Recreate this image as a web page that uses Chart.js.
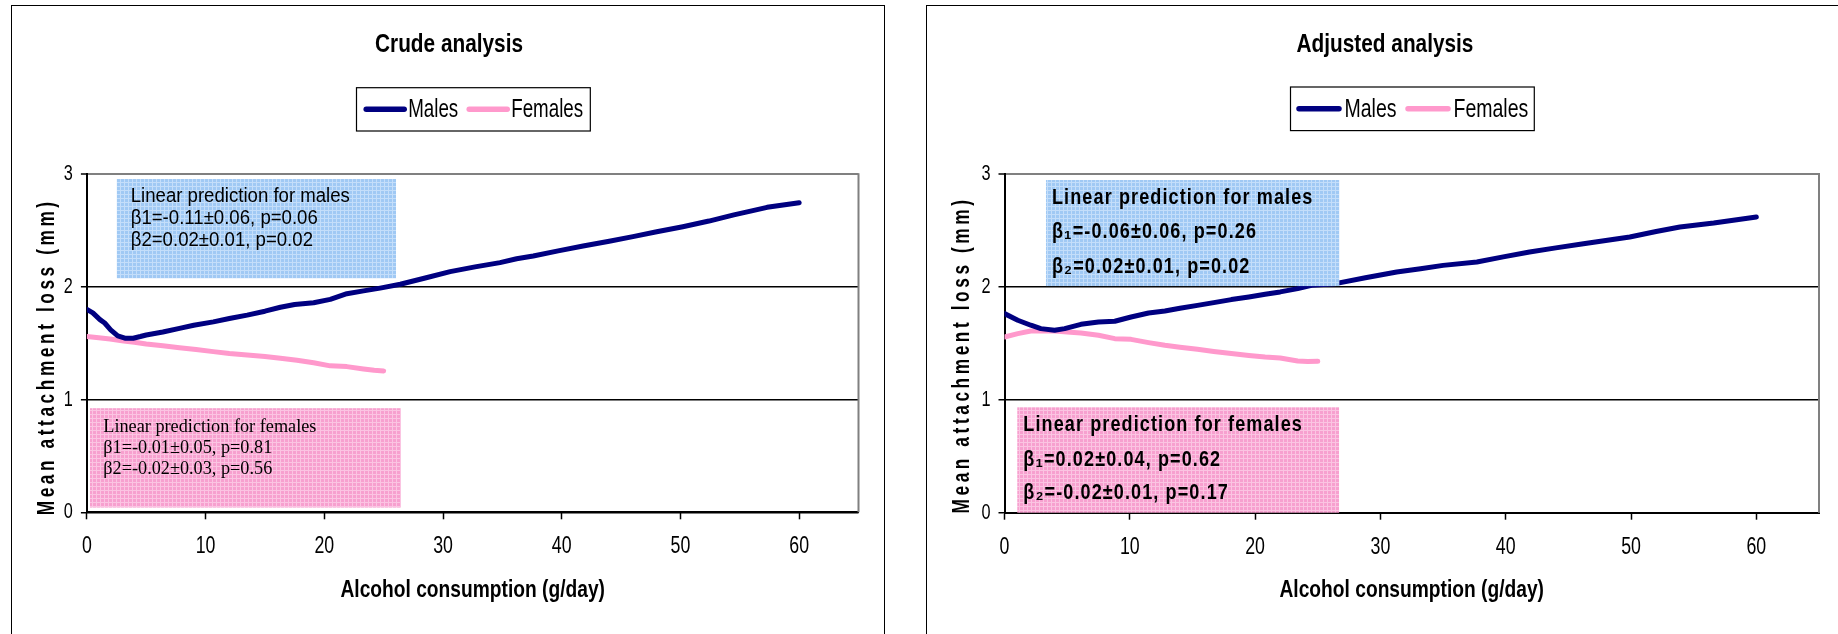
<!DOCTYPE html>
<html><head><meta charset="utf-8">
<script src="https://cdn.jsdelivr.net/npm/chart.js@4.4.1/dist/chart.umd.min.js"></script>
<style>
html,body{margin:0;padding:0;overflow:hidden;background:#fff;width:1838px;height:634px}
.box{position:absolute;border:1px solid #000;box-sizing:border-box;background:#fff;overflow:hidden}
#boxL{left:11px;top:5px;width:874px;height:660px}
#boxR{left:926px;top:5px;width:960px;height:660px}
canvas{position:absolute;left:0;top:0}
</style></head><body>
<div class="box" id="boxL"><canvas id="cL" width="872" height="628" style="width:872px;height:628px"></canvas></div>
<div class="box" id="boxR"><canvas id="cR" width="911" height="628" style="width:911px;height:628px"></canvas></div>
<script>
// ---------- data ----------
const SERIES = ['Males', 'Females'];
const CHART_TITLES = ['Crude analysis', 'Adjusted analysis'];
const X_TITLE = 'Alcohol consumption (g/day)';
const Y_TITLE = 'Mean attachment loss (mm)';
const X_TICKS = [0, 10, 20, 30, 40, 50, 60];
const Y_TICKS = [0, 1, 2, 3];

const crudeMalesX = [0, 0.5, 1.1, 1.5, 2.0, 2.6, 3.2, 3.9, 4.5, 5.0, 6.4, 7.8, 9, 10.65, 12, 13.5, 15, 16.3, 17.5, 19.1, 20.5, 21.9, 23.3, 24.7, 26.4, 28.5, 30.6, 32.7, 34.8, 36.2, 37.6, 39.7, 41.8, 44, 46, 48, 50.2, 52.4, 54.5, 56, 57.3, 60];
const crudeMalesY = [1.80, 1.77, 1.71, 1.68, 1.62, 1.565, 1.545, 1.545, 1.56, 1.574, 1.60, 1.633, 1.66, 1.69, 1.72, 1.75, 1.785, 1.82, 1.845, 1.86, 1.89, 1.94, 1.965, 1.99, 2.024, 2.08, 2.136, 2.178, 2.216, 2.25, 2.275, 2.32, 2.364, 2.405, 2.447, 2.49, 2.535, 2.585, 2.64, 2.675, 2.707, 2.748];

const crudeFemalesX = [0, 1, 1.95, 3.1, 4, 5, 6.4, 7.8, 9.2, 10.65, 12, 13.5, 15, 16.3, 17.7, 19.1, 20.5, 21.9, 23.3, 24.2, 25];
const crudeFemalesY = [1.56, 1.55, 1.539, 1.521, 1.51, 1.494, 1.478, 1.461, 1.445, 1.426, 1.41, 1.397, 1.383, 1.367, 1.35, 1.328, 1.30, 1.293, 1.272, 1.26, 1.255];

const adjMalesX = [0, 1.06, 2.1, 2.9, 4.0, 4.8, 6.1, 7.5, 8.8, 10.1, 11.5, 12.8, 14, 15.4, 16.7, 18.1, 19.5, 20.8, 22, 23.4, 24.5, 26.4, 28.8, 31.3, 33.2, 35, 37.7, 39.8, 41.9, 44, 46.2, 49.9, 52, 53.9, 56.6, 60];
const adjMalesY = [1.763, 1.704, 1.66, 1.63, 1.615, 1.63, 1.668, 1.689, 1.695, 1.733, 1.768, 1.786, 1.81, 1.836, 1.86, 1.887, 1.91, 1.934, 1.955, 1.984, 2.013, 2.028, 2.08, 2.131, 2.16, 2.19, 2.22, 2.265, 2.308, 2.345, 2.382, 2.441, 2.49, 2.53, 2.565, 2.618];

const adjFemalesX = [0, 1.06, 2.1, 3, 4, 5, 6.1, 7.5, 8.8, 10.1, 11.5, 12.8, 14, 15.4, 16.7, 18.1, 19.5, 20.8, 22, 23.4, 24.2, 25];
const adjFemalesY = [1.556, 1.586, 1.609, 1.612, 1.609, 1.60, 1.591, 1.571, 1.541, 1.535, 1.506, 1.482, 1.465, 1.447, 1.428, 1.409, 1.392, 1.379, 1.37, 1.343, 1.338, 1.34];

const crudeMaleNote = ['Linear prediction for males', 'β1=-0.11±0.06, p=0.06', 'β2=0.02±0.01, p=0.02'];
const crudeFemaleNote = ['Linear prediction for females', 'β1=-0.01±0.05, p=0.81', 'β2=-0.02±0.03, p=0.56'];
const adjMaleNote = ['Linear prediction for males', 'β₁=-0.06±0.06, p=0.26', 'β₂=0.02±0.01, p=0.02'];
const adjFemaleNote = ['Linear prediction for females', 'β₁=0.02±0.04, p=0.62', 'β₂=-0.02±0.01, p=0.17'];

// ---------- styling ----------
// "CondNN" is a marker family (not installed): text in it falls back to Liberation Sans
// and is drawn horizontally condensed to NN% to imitate a narrow face.
const SANS = "'Liberation Sans',Arial,sans-serif";
const SERIF = "'Liberation Serif','Times New Roman',serif";
function cond(pct) { return 'Cond' + pct + ", 'Liberation Sans', Arial, sans-serif"; }
const COLORS = ['#000080', '#FF99CC'];

(function () {
  const P = CanvasRenderingContext2D.prototype;
  const orig = P.fillText;
  P.fillText = function (t, x, y, mw) {
    const m = /Cond(\d+)/.exec(this.font);
    if (m) {
      const f = parseInt(m[1], 10) / 100;
      const w = this.measureText(t).width * f;
      return orig.call(this, t, x, y, (mw !== undefined && mw !== null && mw < w) ? mw : w);
    }
    return (mw === undefined || mw === null) ? orig.call(this, t, x, y) : orig.call(this, t, x, y, mw);
  };
})();

function pts(xs, ys) { return xs.map((x, i) => ({x: x, y: ys[i]})); }

function makePattern(ctx, base, line) {
  const c = document.createElement('canvas'); c.width = 4; c.height = 4;
  const g = c.getContext('2d');
  g.fillStyle = base; g.fillRect(0, 0, 4, 4);
  g.fillStyle = line; g.fillRect(0, 0, 4, 1); g.fillRect(0, 0, 1, 4);
  return ctx.createPattern(c, 'repeat');
}

const notesPlugin = {
  id: 'notes',
  afterDatasetsDraw(chart, args, opts) {
    const ctx = chart.ctx, xs = chart.scales.x, ys = chart.scales.y;
    (opts.items || []).forEach(b => {
      const l = xs.getPixelForValue(b.x0), r = xs.getPixelForValue(b.x1);
      const t = ys.getPixelForValue(b.y1), bt = ys.getPixelForValue(b.y0);
      ctx.save();
      ctx.fillStyle = makePattern(ctx, b.base, b.line);
      ctx.fillRect(l, t, r - l, bt - t);
      ctx.fillStyle = '#000';
      ctx.font = b.font;
      ctx.textBaseline = 'middle';
      ctx.textAlign = 'left';
      if (b.spacing) ctx.letterSpacing = b.spacing;
      b.lines.forEach((s, i) => {
        ctx.save();
        ctx.translate(l + b.padX, t + b.lineY[i]);
        ctx.scale(b.squeeze, 1);
        ctx.fillText(s, 0, 0);
        ctx.restore();
      });
      ctx.restore();
    });
  }
};

const framePlugin = {
  id: 'frame',
  beforeDatasetsDraw(chart) {
    const ctx = chart.ctx, a = chart.chartArea;
    ctx.save();
    ctx.strokeStyle = '#808080'; ctx.lineWidth = 2;
    ctx.beginPath(); ctx.moveTo(a.right, a.top - 1); ctx.lineTo(a.right, a.bottom); ctx.stroke();
    ctx.restore();
  }
};

const legendPlugin = {
  id: 'boxLegend',
  afterDraw(chart, args, opts) {
    const ctx = chart.ctx, a = chart.chartArea;
    ctx.save();
    ctx.font = opts.size + 'px ' + cond(opts.squeeze);
    ctx.textBaseline = 'middle';
    ctx.textAlign = 'left';
    const f = opts.squeeze / 100;
    const ds = chart.data.datasets;
    const tw = ds.map(d => ctx.measureText(d.label).width * f);
    let w = opts.pad * 2;
    ds.forEach((d, i) => { w += opts.lineLen + opts.gap + tw[i] + (i < ds.length - 1 ? opts.itemGap : 0); });
    const left = Math.round((a.left + a.right) / 2 - w / 2) + 0.5;
    const top = opts.top, h = opts.height;
    ctx.fillStyle = '#fff'; ctx.fillRect(left, top, w, h);
    ctx.strokeStyle = '#000'; ctx.lineWidth = 1.2;
    ctx.strokeRect(left, top, w, h);
    let x = left + opts.pad; const cy = top + h / 2;
    ds.forEach((d, i) => {
      ctx.strokeStyle = d.borderColor; ctx.lineWidth = 5.5; ctx.lineCap = 'round';
      ctx.beginPath(); ctx.moveTo(x + 2.5, cy); ctx.lineTo(x + opts.lineLen - 2.5, cy); ctx.stroke();
      x += opts.lineLen + opts.gap;
      ctx.fillStyle = '#000'; ctx.fillText(d.label, x, cy + 1);
      x += tw[i] + opts.itemGap;
    });
    ctx.restore();
  }
};

const yTitlePlugin = {
  id: 'yTitle',
  afterDraw(chart, args, opts) {
    const ctx = chart.ctx;
    ctx.save();
    ctx.font = opts.font;
    const n = opts.text.length;
    const nat = ctx.measureText(opts.text).width;
    const sp = (opts.length / opts.squeeze - nat) / n;
    ctx.letterSpacing = sp + 'px';
    ctx.translate(opts.x, opts.y);
    ctx.rotate(-Math.PI / 2);
    ctx.scale(opts.squeeze, 1);
    ctx.fillStyle = '#000';
    ctx.textBaseline = 'middle';
    ctx.textAlign = 'left';
    ctx.fillText(opts.text, -opts.length / 2 / opts.squeeze, 0);
    ctx.restore();
  }
};

function build(canvasId, title, males, females, geo, notes) {
  return new Chart(document.getElementById(canvasId), {
    type: 'line',
    data: {
      datasets: [
        {label: SERIES[0], data: males, borderColor: COLORS[0], backgroundColor: COLORS[0], borderWidth: 5, pointRadius: 0, tension: 0, borderCapStyle: 'round', borderJoinStyle: 'round', fill: false},
        {label: SERIES[1], data: females, borderColor: COLORS[1], backgroundColor: COLORS[1], borderWidth: 5, pointRadius: 0, tension: 0, borderCapStyle: 'round', borderJoinStyle: 'round', fill: false}
      ]
    },
    options: {
      responsive: false, animation: false, devicePixelRatio: 1,
      layout: {padding: {left: geo.padL, right: geo.padR, top: 0, bottom: 0}},
      scales: {
        x: {
          type: 'linear', min: 0, max: 65,
          afterBuildTicks: s => { s.ticks = X_TICKS.map(v => ({value: v})); },
          ticks: {font: {family: cond(74), size: 24}, color: '#000', padding: 13, maxRotation: 0, autoSkip: false},
          grid: {drawOnChartArea: false, drawTicks: true, tickLength: 7, tickColor: '#000', tickWidth: 1.5},
          border: {color: '#000', width: 2},
          title: {display: true, text: X_TITLE, font: {family: cond(80), size: 24, weight: 'bold'}, color: '#000', padding: {top: 0, bottom: 29.3}},
          afterFit: s => { s.height = geo.xH; }
        },
        y: {
          min: 0, max: 3,
          afterBuildTicks: s => { s.ticks = Y_TICKS.map(v => ({value: v})); },
          ticks: {font: {family: cond(74), size: 22}, color: '#000', padding: 8},
          grid: {
            color: c => (c.tick && c.tick.value === 3) ? '#808080' : '#000',
            lineWidth: c => (c.tick && c.tick.value === 3) ? 2 : 1.5,
            drawTicks: true, tickLength: 6, tickColor: '#000', tickWidth: 1.5
          },
          border: {color: '#000', width: 2},
          afterFit: s => { s.width = geo.yW; }
        }
      },
      plugins: {
        legend: {display: false},
        tooltip: {enabled: false},
        title: {display: true, text: title, color: '#000', font: {family: cond(80), size: 26, weight: 'bold'}, padding: {top: 22.9, bottom: geo.titleBottom}},
        boxLegend: geo.legend,
        yTitle: {text: Y_TITLE, font: 'bold 24px ' + SANS, squeeze: 0.72, length: 317, x: 35, y: geo.yTitleY},
        notes: {items: notes}
      }
    },
    plugins: [framePlugin, notesPlugin, legendPlugin, yTitlePlugin]
  });
}

const BLUE = {base: '#A0C9F4', line: '#C4DEFA'};
const PINK = {base: '#F7A0CF', line: '#FBC4E2'};

build('cL', CHART_TITLES[0], pts(crudeMalesX, crudeMalesY), pts(crudeFemalesX, crudeFemalesY),
  {padL: 27.5, padR: 25.5, yW: 47.4, xH: 121.7, titleBottom: 114.2, yTitleY: 350.8,
   legend: {size: 25, squeeze: 75, top: 81.7, height: 43.3, pad: 7.2, lineLen: 43, gap: 1.5, itemGap: 8.5}},
  [
    {x0: 2.52, x1: 26.04, y0: 2.077, y1: 2.958, base: BLUE.base, line: BLUE.line, font: '20px ' + SANS, squeeze: 0.93, padX: 13.9, lineY: [17.7, 39.3, 61], lines: crudeMaleNote},
    {x0: 0.26, x1: 26.46, y0: 0.042, y1: 0.924, base: PINK.base, line: PINK.line, font: '19.5px ' + SERIF, squeeze: 0.935, padX: 13.3, lineY: [18.4, 40, 61], lines: crudeFemaleNote}
  ]);

build('cR', CHART_TITLES[1], pts(adjMalesX, adjMalesY), pts(adjFemalesX, adjFemalesY),
  {padL: 24, padR: 19, yW: 53.5, xH: 121.3, titleBottom: 113.8, yTitleY: 349,
   legend: {size: 26, squeeze: 75, top: 81, height: 43.6, pad: 6, lineLen: 45, gap: 3, itemGap: 9}},
  [
    {x0: 3.31, x1: 26.72, y0: 2.007, y1: 2.946, base: BLUE.base, line: BLUE.line, font: 'bold 22px ' + SANS, squeeze: 0.82, spacing: '1.35px', padX: 6, lineY: [17.7, 51.7, 86.7], lines: adjMaleNote},
    {x0: 1.02, x1: 26.7, y0: 0, y1: 0.933, base: PINK.base, line: PINK.line, font: 'bold 22px ' + SANS, squeeze: 0.82, spacing: '1.35px', padX: 6, lineY: [17.7, 52.7, 86], lines: adjFemaleNote}
  ]);
</script>
</body></html>
